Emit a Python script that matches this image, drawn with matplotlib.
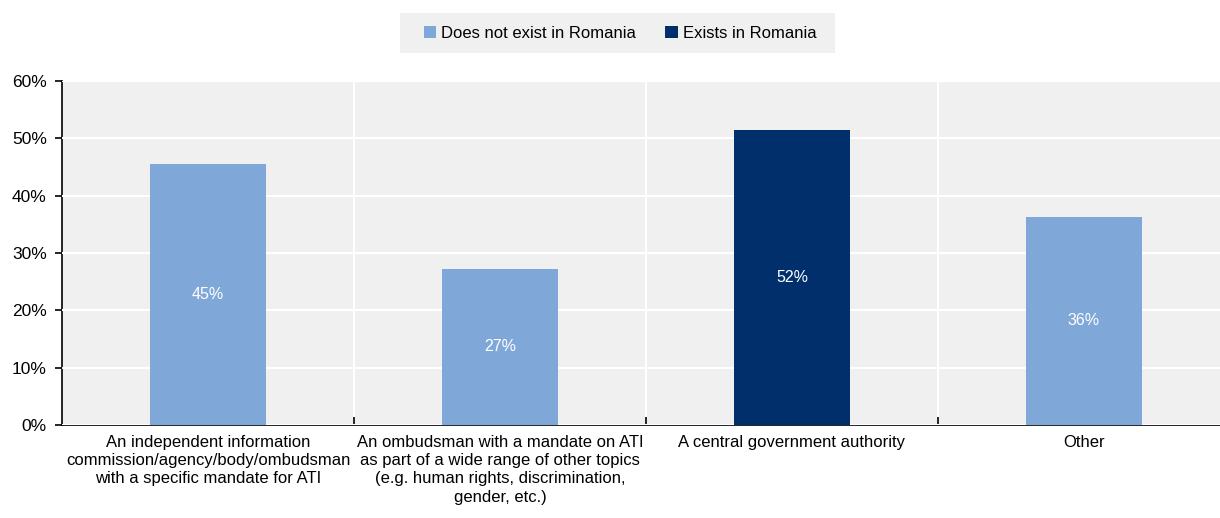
import matplotlib
matplotlib.use("Agg")
import matplotlib.pyplot as plt
from matplotlib.patches import Patch, Rectangle
from matplotlib.ticker import FuncFormatter, FixedLocator

plt.rcParams['font.family'] = ['Liberation Sans', 'DejaVu Sans']

categories = [
    "An independent information\ncommission/agency/body/ombudsman\nwith a specific mandate for ATI",
    "An ombudsman with a mandate on ATI\nas part of a wide range of other topics\n(e.g. human rights, discrimination,\ngender, etc.)",
    "A central government authority",
    "Other",
]
values = [45.45, 27.27, 51.52, 36.36]
exists = [False, False, True, False]
legend_labels = ["Does not exist in Romania", "Exists in Romania"]

LIGHT = "#7FA8D9"
DARK = "#002F6C"
BG = "#F0F0F0"

W, H = 1220, 518
fig = plt.figure(figsize=(W / 100, H / 100), dpi=100)
ax = fig.add_axes([62 / W, 1 - 425 / H, (1230 - 62) / W, (425 - 81) / H])
ax.set_facecolor(BG)

x = list(range(len(categories)))
colors = [DARK if e else LIGHT for e in exists]
bars = ax.bar(x, values, width=0.4, color=colors, zorder=3)

for b, v in zip(bars, values):
    ax.text(b.get_x() + b.get_width() / 2, v / 2, f"{round(v):.0f}%",
            ha="center", va="center", color="white", fontsize=11.5, zorder=4)

ax.set_xlim(-0.5, len(categories) - 0.5)
ax.set_ylim(0, 60)
ax.set_yticks(range(0, 61, 10))
ax.yaxis.set_major_formatter(FuncFormatter(lambda v, p: f"{v:.0f}%"))
ax.grid(axis="y", color="white", linewidth=1.5, zorder=1)

# separators between categories
for s in [i + 0.5 for i in range(len(categories) - 1)]:
    ax.axvline(s, color="white", linewidth=1.5, zorder=1)

ax.set_xticks(x)
ax.set_xticklabels(categories, fontsize=12, linespacing=1.28)
ax.tick_params(axis="x", length=0, pad=7)
ax.xaxis.set_minor_locator(FixedLocator([i + 0.5 for i in range(len(categories) - 1)]))
ax.tick_params(axis="x", which="minor", direction="in", length=6, width=1.2, color="black")
ax.tick_params(axis="y", direction="out", length=5, width=1.2, labelsize=12.5, pad=6)

for side in ["top", "right"]:
    ax.spines[side].set_visible(False)
for side in ["left", "bottom"]:
    ax.spines[side].set_color("black")
    ax.spines[side].set_linewidth(1.2)
ax.set_axisbelow(False)

# legend background panel
fig.patches.append(Rectangle((400 / W, 1 - 53 / H), (835 - 400) / W, 40 / H,
                             transform=fig.transFigure, facecolor=BG,
                             edgecolor="none", zorder=0))

handles = [Patch(facecolor=LIGHT), Patch(facecolor=DARK)]
fig.legend(handles, legend_labels, loc="center", bbox_to_anchor=(620 / W, 1 - 33 / H),
           ncol=2, frameon=False, fontsize=12, handlelength=0.75, handleheight=0.75,
           handletextpad=0.3, columnspacing=1.75)

fig.savefig("out.png", dpi=100)
